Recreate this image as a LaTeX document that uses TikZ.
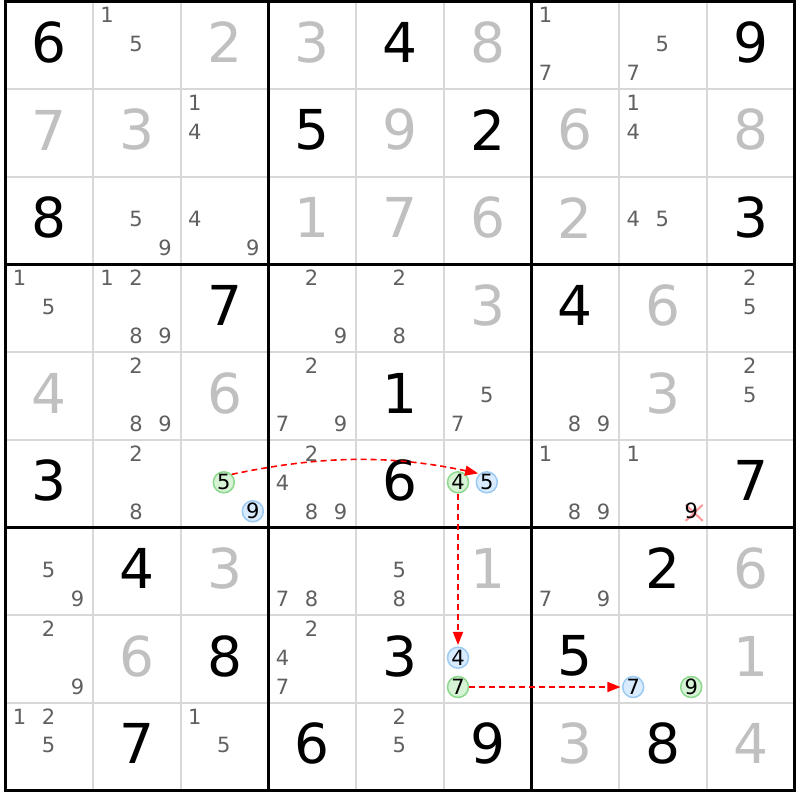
\documentclass[tikz,border=0pt]{standalone}
\usepackage{fontspec}
\setmainfont{DejaVu Sans}
\usetikzlibrary{arrows.meta,shapes.misc}
\definecolor{gridgray}{HTML}{D8D8D8}
\definecolor{solved}{HTML}{C0C0C0}
\definecolor{candc}{HTML}{606060}
\definecolor{gfill}{HTML}{D6F3D6}
\definecolor{gline}{HTML}{8CD88C}
\definecolor{bfill}{HTML}{D8EBFF}
\definecolor{bline}{HTML}{9CCAF2}
\tikzset{
  big/.style={inner sep=0pt,font=\fontsize{55}{60}\selectfont},
  given/.style={big,text=black},
  solv/.style={big,text=solved},
  cand/.style={inner sep=0pt,font=\fontsize{21}{24}\selectfont,text=candc},
  circ/.style={circle,inner sep=0pt,minimum size=21pt,line width=1.5pt,font=\fontsize{21}{24}\selectfont,text=black},
  gc/.style={circ,draw=gline,fill=gfill},
  bc/.style={circ,draw=bline,fill=bfill},
  link/.style={red,line width=1.6pt,dash pattern=on 6pt off 4pt,-{Triangle[length=13pt,width=10pt]},shorten >=1.5pt},
  thinline/.style={draw=gridgray,line width=2pt},
  thickline/.style={draw=black,line width=3pt},
}
\begin{document}
\begin{tikzpicture}[x=1pt,y=-1pt]
\useasboundingbox[fill=white] (0,0) rectangle (800,800);
% grid
\foreach \i in {1,2,4,5,7,8}{
  \pgfmathsetmacro\p{5.5+\i*87.67}
  \pgfmathsetmacro\q{1.5+\i*87.67}
  \draw[thinline] (\p,1.5) -- (\p,790.5);
  \draw[thinline] (5.5,\q) -- (794.5,\q);
}
\foreach \i in {0,3,6,9}{
  \pgfmathsetmacro\p{5.5+\i*87.67}
  \pgfmathsetmacro\q{1.5+\i*87.67}
  \draw[thickline] (\p,0) -- (\p,792);
  \draw[thickline] (4,\q) -- (796,\q);
}
% big digits
\foreach \r/\c/\d/\k in {
 1/1/6/given,1/3/2/solv,1/4/3/solv,1/5/4/given,1/6/8/solv,1/9/9/given,
 2/1/7/solv,2/2/3/solv,2/4/5/given,2/5/9/solv,2/6/2/given,2/7/6/solv,2/9/8/solv,
 3/1/8/given,3/4/1/solv,3/5/7/solv,3/6/6/solv,3/7/2/solv,3/9/3/given,
 4/3/7/given,4/6/3/solv,4/7/4/given,4/8/6/solv,
 5/1/4/solv,5/3/6/solv,5/5/1/given,5/8/3/solv,
 6/1/3/given,6/5/6/given,6/9/7/given,
 7/2/4/given,7/3/3/solv,7/6/1/solv,7/8/2/given,7/9/6/solv,
 8/2/6/solv,8/3/8/given,8/5/3/given,8/7/5/given,8/9/1/solv,
 9/2/7/given,9/4/6/given,9/6/9/given,9/7/3/solv,9/8/8/given,9/9/4/solv}{
  \pgfmathsetmacro\xx{5.5+(\c-1)*87.67+43.8}
  \pgfmathsetmacro\yy{1.5+(\r-1)*87.67+43.8-3}
  \node[\k] (d\r\c) at (\xx,\yy) {\d};
}
% candidates
\foreach \r/\c/\d in {
 1/2/1,1/2/5,1/7/1,1/7/7,1/8/5,1/8/7,
 2/3/1,2/3/4,2/8/1,2/8/4,
 3/2/5,3/2/9,3/3/4,3/3/9,3/8/4,3/8/5,
 4/1/1,4/1/5,4/2/1,4/2/2,4/2/8,4/2/9,4/4/2,4/4/9,4/5/2,4/5/8,4/9/2,4/9/5,
 5/2/2,5/2/8,5/2/9,5/4/2,5/4/7,5/4/9,5/6/5,5/6/7,5/7/8,5/7/9,5/9/2,5/9/5,
 6/2/2,6/2/8,6/4/2,6/4/4,6/4/8,6/4/9,6/7/1,6/7/8,6/7/9,6/8/1,
 7/1/5,7/1/9,7/4/7,7/4/8,7/5/5,7/5/8,7/7/7,7/7/9,
 8/1/2,8/1/9,8/4/2,8/4/4,8/4/7,
 9/1/1,9/1/2,9/1/5,9/3/1,9/3/5,9/5/2,9/5/5}{
  \pgfmathsetmacro\xx{5.5+(\c-1)*87.67+14+29*mod(\d-1,3)}
  \pgfmathsetmacro\yy{1.5+(\r-1)*87.67+13.5+29*floor((\d-1)/3)}
  \node[cand] (c\r\c\d) at (\xx,\yy) {\d};
}
% eliminated candidate r6c8 9
\node[cross out,draw=red!40,line width=2pt,minimum width=15pt,minimum height=14pt,inner sep=0pt] (x689) at (694.2,512.8) {};
\node[cand,text=black] (c689) at (691.2,511.3) {9};
% highlighted candidates
\node[gc] (g5) at (223.8,482.3) {5};
\node[bc] (b9) at (252.8,511.3) {9};
\node[gc] (g4) at (458,482.3) {4};
\node[bc] (b5) at (486.8,482.3) {5};
\node[bc] (b4) at (458,657.7) {4};
\node[gc] (g7) at (458,687) {7};
\node[bc] (b7) at (633.2,687) {7};
\node[gc] (g9) at (691.2,687) {9};
% links
\draw[link] (g5.45) .. controls +(90,-19) and +(-90,-19) .. (b5.130);
\draw[link] (g4) -- (b4);
\draw[link] (g7) -- (b7);
\end{tikzpicture}
\end{document}
